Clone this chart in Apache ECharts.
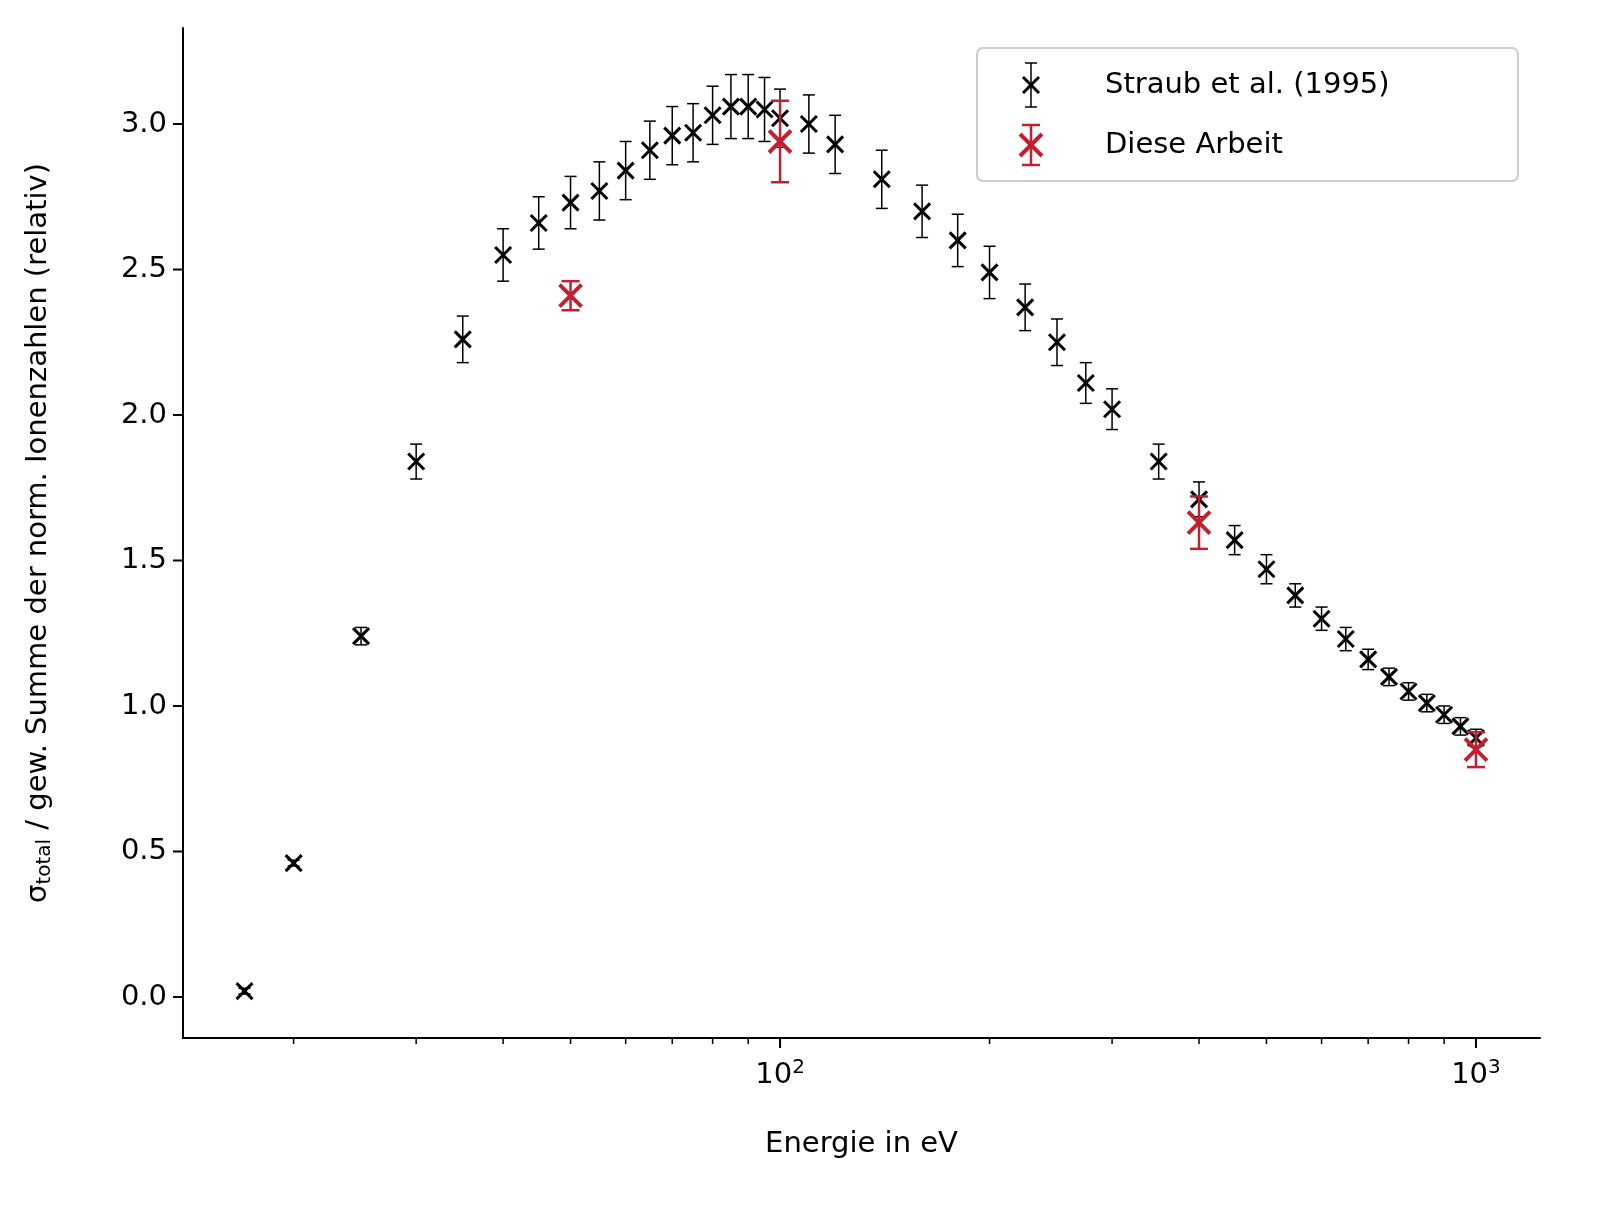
<!DOCTYPE html>
<html><head><meta charset="utf-8">
<script src="https://cdn.jsdelivr.net/npm/echarts@6/dist/echarts.min.js"></script>
<style>html,body{margin:0;background:#fff}#c{width:1613px;height:1229px}</style>
</head><body><div id="c"></div>
<script>
// Straub et al. (1995)
var straubE = [17,20,25,30,35,40,45,50,55,60,65,70,75,80,85,90,95,100,110,120,140,160,180,200,225,250,275,300,350,400,450,500,550,600,650,700,750,800,850,900,950,1000];
var straubY = [0.02,0.46,1.24,1.84,2.26,2.55,2.66,2.73,2.77,2.84,2.91,2.96,2.97,3.03,3.06,3.06,3.05,3.02,3.00,2.93,2.81,2.70,2.60,2.49,2.37,2.25,2.11,2.02,1.84,1.71,1.57,1.47,1.38,1.30,1.23,1.16,1.10,1.05,1.01,0.97,0.93,0.89];
var straubErr = [0.01,0.01,0.03,0.06,0.08,0.09,0.09,0.09,0.10,0.10,0.10,0.10,0.10,0.10,0.11,0.11,0.11,0.10,0.10,0.10,0.10,0.09,0.09,0.09,0.08,0.08,0.07,0.07,0.06,0.06,0.05,0.05,0.04,0.04,0.04,0.035,0.03,0.03,0.03,0.03,0.03,0.03];
// Diese Arbeit
var arbeitE = [50,100,400,1000];
var arbeitY = [2.41,2.94,1.63,0.85];
var arbeitErr = [0.05,0.14,0.09,0.06];
var yTicks = [0,0.5,1,1.5,2,2.5,3];
var xMajor = [100,1000];
var minorTicks = [20,30,40,50,60,70,80,90,200,300,400,500,600,700,800,900];

var XMIN = Math.log10(13.87), XMAX = Math.log10(1236), YMIN = -0.141, YMAX = 3.33;
var RED = '#c0202f';
var ff = 'DejaVu Sans';
function rows(E, Y, Er) { return E.map(function (e, i) { return [Math.log10(e), Y[i], Er[i]]; }); }

function errRender(color, cap, lw, mk) {
  return function (params, api) {
    var x = api.value(0), y = api.value(1), e = api.value(2);
    var p = api.coord([x, y]), top = api.coord([x, y + e]), bot = api.coord([x, y - e]);
    var st = { stroke: color, lineWidth: lw };
    return { type: 'group', children: [
      { type: 'line', shape: { x1: p[0], y1: top[1], x2: p[0], y2: bot[1] }, style: st },
      { type: 'line', shape: { x1: p[0] - cap, y1: top[1], x2: p[0] + cap, y2: top[1] }, style: st },
      { type: 'line', shape: { x1: p[0] - cap, y1: bot[1], x2: p[0] + cap, y2: bot[1] }, style: st },
      { type: 'line', shape: { x1: p[0] - mk, y1: p[1] - mk, x2: p[0] + mk, y2: p[1] + mk }, style: { stroke: color, lineWidth: lw + 1.5 } },
      { type: 'line', shape: { x1: p[0] - mk, y1: p[1] + mk, x2: p[0] + mk, y2: p[1] - mk }, style: { stroke: color, lineWidth: lw + 1.5 } }
    ] };
  };
}

var chart = echarts.init(document.getElementById('c'));
chart.setOption({
  animation: false,
  textStyle: { fontFamily: ff },
  grid: { left: 183, right: 73, top: 28, bottom: 191, outerBoundsMode: 'none', containLabel: false },
  xAxis: {
    type: 'value', min: XMIN, max: XMAX,
    name: 'Energie in eV', nameLocation: 'middle', nameGap: 92,
    nameTextStyle: { fontSize: 29, color: '#000' },
    axisLine: { onZero: false, lineStyle: { color: '#000', width: 2 } },
    axisTick: { show: false }, axisLabel: { show: false }, splitLine: { show: false }
  },
  yAxis: {
    type: 'value', min: YMIN, max: YMAX,
    name: 'σ{sub|total} / gew. Summe der norm. Ionenzahlen (relativ)',
    nameLocation: 'middle', nameGap: 128, nameRotate: 90,
    nameTextStyle: { fontSize: 29, color: '#000', rich: { sub: { fontSize: 20, padding: [14, 0, 0, 0], color: '#000' } } },
    axisLine: { show: true, onZero: false, lineStyle: { color: '#000', width: 2 } },
    axisTick: { show: false }, axisLabel: { show: false }, splitLine: { show: false }
  },
  series: [
    { type: 'custom', silent: true, clip: false, data: minorTicks.map(function (v) { return [Math.log10(v), 0]; }),
      renderItem: function (params, api) {
        var p = api.coord([api.value(0), YMIN]);
        return { type: 'line', shape: { x1: p[0], y1: p[1], x2: p[0], y2: p[1] + 6 }, style: { stroke: '#000', lineWidth: 1.5 } };
      } },
    { type: 'custom', silent: true, clip: false, data: xMajor.map(function (v) { return [Math.log10(v), 0]; }),
      renderItem: function (params, api) {
        var v = api.value(0), p = api.coord([v, YMIN]);
        return { type: 'group', children: [
          { type: 'line', shape: { x1: p[0], y1: p[1], x2: p[0], y2: p[1] + 10 }, style: { stroke: '#000', lineWidth: 2 } },
          { type: 'text', style: { x: p[0], y: p[1] + 20, text: '10{s|' + Math.round(v) + '}', fontSize: 29, fontFamily: ff, fill: '#000', align: 'center', verticalAlign: 'top',
            rich: { s: { fontSize: 20, fontFamily: ff, verticalAlign: 'top', padding: [0, 0, 14, 0] } } } }
        ] };
      } },
    { type: 'custom', silent: true, clip: false, data: yTicks.map(function (v) { return [2, v]; }),
      renderItem: function (params, api) {
        var v = api.value(1), p = api.coord([XMIN, v]);
        return { type: 'group', children: [
          { type: 'line', shape: { x1: p[0] - 10, y1: p[1], x2: p[0], y2: p[1] }, style: { stroke: '#000', lineWidth: 2 } },
          { type: 'text', style: { x: p[0] - 16, y: p[1], text: v.toFixed(1), fontSize: 29, fontFamily: ff, fill: '#000', align: 'right', verticalAlign: 'middle' } }
        ] };
      } },
    { name: 'Straub et al. (1995)', type: 'custom', renderItem: errRender('#000', 6, 1.5, 8), data: rows(straubE, straubY, straubErr) },
    { name: 'Diese Arbeit', type: 'custom', renderItem: errRender(RED, 9, 2.5, 11), data: rows(arbeitE, arbeitY, arbeitErr) }
  ],
  graphic: [
    { type: 'rect', shape: { x: 977, y: 48, width: 541, height: 133, r: 6 }, style: { fill: 'rgba(255,255,255,0.8)', stroke: '#ccc', lineWidth: 2 } },
    { type: 'group', x: 1031, y: 85, children: [
      { type: 'line', shape: { x1: 0, y1: -22, x2: 0, y2: 22 }, style: { stroke: '#000', lineWidth: 1.5 } },
      { type: 'line', shape: { x1: -6, y1: -22, x2: 6, y2: -22 }, style: { stroke: '#000', lineWidth: 1.5 } },
      { type: 'line', shape: { x1: -6, y1: 22, x2: 6, y2: 22 }, style: { stroke: '#000', lineWidth: 1.5 } },
      { type: 'line', shape: { x1: -8, y1: -8, x2: 8, y2: 8 }, style: { stroke: '#000', lineWidth: 3 } },
      { type: 'line', shape: { x1: -8, y1: 8, x2: 8, y2: -8 }, style: { stroke: '#000', lineWidth: 3 } }
    ] },
    { type: 'text', x: 1105, y: 85, style: { text: 'Straub et al. (1995)', fontSize: 29, fontFamily: ff, fill: '#000', verticalAlign: 'middle' } },
    { type: 'group', x: 1031, y: 145, children: [
      { type: 'line', shape: { x1: 0, y1: -20, x2: 0, y2: 20 }, style: { stroke: RED, lineWidth: 2.5 } },
      { type: 'line', shape: { x1: -9, y1: -20, x2: 9, y2: -20 }, style: { stroke: RED, lineWidth: 2.5 } },
      { type: 'line', shape: { x1: -9, y1: 20, x2: 9, y2: 20 }, style: { stroke: RED, lineWidth: 2.5 } },
      { type: 'line', shape: { x1: -11, y1: -11, x2: 11, y2: 11 }, style: { stroke: RED, lineWidth: 4 } },
      { type: 'line', shape: { x1: -11, y1: 11, x2: 11, y2: -11 }, style: { stroke: RED, lineWidth: 4 } }
    ] },
    { type: 'text', x: 1105, y: 145, style: { text: 'Diese Arbeit', fontSize: 29, fontFamily: ff, fill: '#000', verticalAlign: 'middle' } }
  ]
});
</script></body></html>
